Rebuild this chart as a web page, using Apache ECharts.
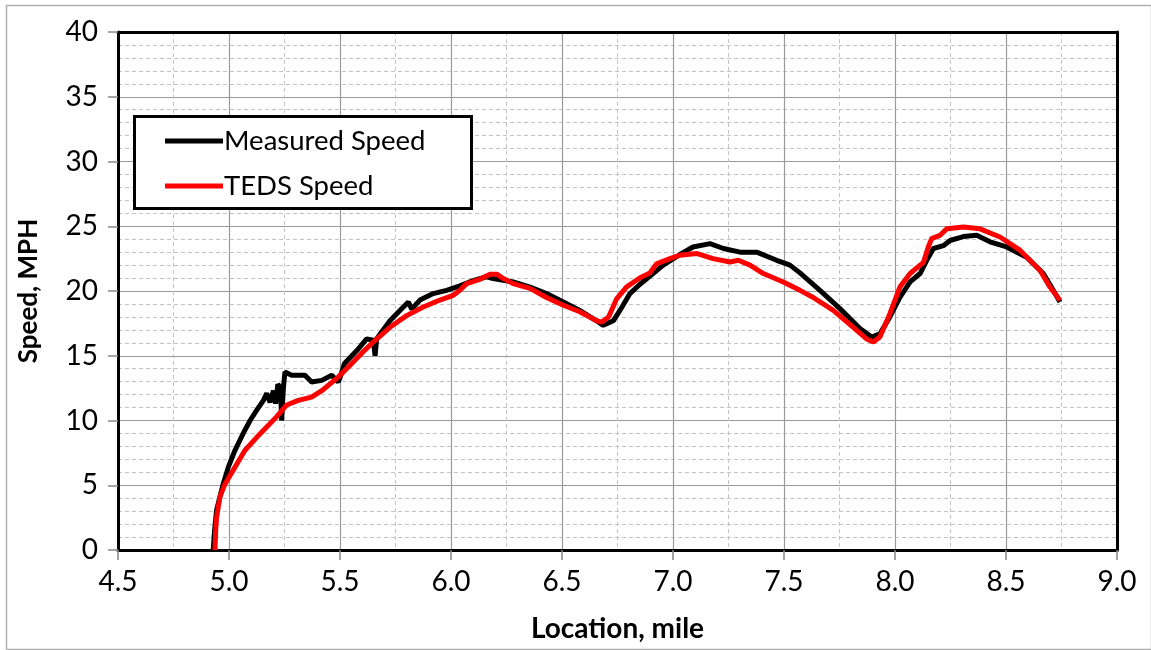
<!DOCTYPE html>
<html>
<head>
<meta charset="utf-8">
<script src="https://cdn.jsdelivr.net/npm/echarts@6/dist/echarts.min.js"></script>
<style>
html,body{margin:0;padding:0;background:#fff;}
#chart{width:1151px;height:650px;}
</style>
</head>
<body>
<div id="chart"></div>
<script>
const xTicks = [4.5, 5.0, 5.5, 6.0, 6.5, 7.0, 7.5, 8.0, 8.5, 9.0];
const yTicks = [0, 5, 10, 15, 20, 25, 30, 35, 40];

const measuredMiles = [4.929,4.935,4.944,4.959,4.974,4.997,5.027,5.064,5.095,5.125,5.155,5.17,5.185,5.20,5.21,5.22,5.232,5.237,5.245,5.252,5.282,5.342,5.372,5.418,5.463,5.492,5.50,5.52,5.531,5.576,5.62,5.65,5.658,5.665,5.695,5.725,5.77,5.808,5.823,5.86,5.92,5.98,6.04,6.1,6.16,6.19,6.28,6.356,6.43,6.506,6.58,6.656,6.686,6.731,6.761,6.806,6.85,6.91,6.956,7.03,7.09,7.167,7.227,7.302,7.377,7.467,7.527,7.572,7.662,7.752,7.842,7.895,7.932,7.977,8.022,8.068,8.113,8.143,8.173,8.218,8.248,8.308,8.368,8.428,8.503,8.593,8.668,8.713,8.743];
const measuredSpeed = [0,1.5,3.06,4.1,5.1,6.4,7.7,9.0,10.0,10.8,11.55,12.1,11.4,12.3,11.3,12.8,12.5,10.0,12.5,13.74,13.5,13.5,12.97,13.1,13.5,12.97,13.3,14.4,14.6,15.4,16.3,16.2,15.0,16.3,17.0,17.7,18.5,19.15,18.6,19.3,19.8,20.05,20.4,20.8,21.1,20.96,20.7,20.3,19.8,19.15,18.5,17.7,17.35,17.7,18.5,19.8,20.5,21.35,22.0,22.8,23.4,23.66,23.28,23.0,23.0,22.37,22.0,21.4,20.05,18.64,17.1,16.44,16.7,18.0,19.5,20.7,21.35,22.37,23.28,23.5,23.9,24.2,24.3,23.8,23.4,22.6,21.35,20.05,19.15];

const tedsMiles = [4.937,4.940,4.944,4.959,4.982,5.027,5.072,5.125,5.17,5.215,5.26,5.312,5.372,5.418,5.492,5.553,5.598,5.65,5.725,5.8,5.875,5.95,6.01,6.04,6.07,6.13,6.176,6.206,6.236,6.28,6.356,6.43,6.506,6.58,6.656,6.68,6.71,6.746,6.79,6.85,6.896,6.926,6.986,7.03,7.106,7.18,7.257,7.294,7.347,7.407,7.497,7.572,7.632,7.722,7.812,7.872,7.902,7.932,7.977,8.022,8.068,8.113,8.128,8.15,8.165,8.203,8.233,8.308,8.383,8.473,8.563,8.653,8.698,8.743];
const tedsSpeed = [0,1.5,2.5,4.1,5.1,6.4,7.7,8.7,9.5,10.3,11.2,11.55,11.8,12.3,13.35,14.4,15.2,16.06,17.2,18.1,18.76,19.3,19.67,20.05,20.57,20.9,21.3,21.3,20.96,20.57,20.2,19.5,18.9,18.4,17.7,17.6,18.0,19.4,20.3,21.0,21.4,22.1,22.5,22.76,22.9,22.5,22.24,22.37,22.0,21.35,20.7,20.05,19.5,18.5,17.2,16.3,16.06,16.44,18.25,20.3,21.35,22.0,22.2,23.4,24.05,24.3,24.8,24.95,24.8,24.17,23.15,21.6,20.3,19.28];

const measured = measuredMiles.map((m, i) => [m, measuredSpeed[i]]);
const teds = tedsMiles.map((m, i) => [m, tedsSpeed[i]]);

const FONT = 'Lato';
const chart = echarts.init(document.getElementById('chart'), null, {renderer: 'canvas'});
const borderAxis = {
  show: true,
  axisLine: {show: true, onZero: false, lineStyle: {color: '#000', width: 3}},
  axisTick: {show: false}, axisLabel: {show: false}, splitLine: {show: false}
};
chart.setOption({
  animation: false,
  backgroundColor: '#fff',
  grid: {left: 118, right: 34, top: 32, bottom: 100, containLabel: false},
  graphic: [
    {type: 'rect', left: 4, top: 3, shape: {width: 1145, height: 644}, style: {fill: 'none', stroke: '#b0b0b0', lineWidth: 1.5}, z: -10},
    {type: 'rect', left: 133, top: 115, shape: {width: 337, height: 92}, style: {fill: '#fff', stroke: '#000', lineWidth: 3}, z: 50}
  ],
  legend: {
    orient: 'vertical', left: 160, top: 121, z: 60,
    icon: 'rect', itemWidth: 58, itemHeight: 5, itemGap: 15,
    textStyle: {fontFamily: FONT, fontSize: 27.5, lineHeight: 30, color: '#000', padding: [0,0,0,-4]},
    data: ['Measured Speed', 'TEDS Speed']
  },
  xAxis: [{
    type: 'value', min: 4.5, max: 9.0, interval: 0.5,
    name: 'Location, mile', nameLocation: 'middle', nameGap: 65,
    nameTextStyle: {fontFamily: FONT, fontSize: 28, fontWeight: 'bold', color: '#000'},
    axisLine: {show: true, onZero: false, lineStyle: {color: '#000', width: 3}},
    axisTick: {show: true, length: 10, lineStyle: {color: '#888', width: 1.5}},
    axisLabel: {fontFamily: FONT, fontSize: 28, color: '#000', margin: 18, formatter: v => v.toFixed(1)},
    splitLine: {show: true, lineStyle: {color: '#9a9a9a', width: 1.2}},
    minorTick: {show: false, splitNumber: 2},
    minorSplitLine: {show: true, lineStyle: {color: '#c4c4c4', width: 1, type: [4, 3]}}
  }, Object.assign({position: 'top', type: 'value', min: 4.5, max: 9.0}, borderAxis)],
  yAxis: [{
    type: 'value', min: 0, max: 40, interval: 5,
    name: 'Speed, MPH', nameLocation: 'middle', nameGap: 76,
    nameTextStyle: {fontFamily: FONT, fontSize: 26, fontWeight: 'bold', color: '#000'},
    axisLine: {show: true, onZero: false, lineStyle: {color: '#000', width: 3}},
    axisTick: {show: true, length: 10, lineStyle: {color: '#888', width: 1.5}},
    axisLabel: {fontFamily: FONT, fontSize: 28, color: '#000', margin: 20},
    splitLine: {show: true, lineStyle: {color: '#9a9a9a', width: 1.2}},
    minorTick: {show: false, splitNumber: 5},
    minorSplitLine: {show: true, lineStyle: {color: '#c4c4c4', width: 1, type: [4, 3]}}
  }, Object.assign({position: 'right', type: 'value', min: 0, max: 40}, borderAxis)],
  series: [
    {name: 'Measured Speed', type: 'line', data: measured, showSymbol: false, smooth: false,
     lineStyle: {color: '#000', width: 5}, itemStyle: {color: '#000'}, z: 3},
    {name: 'TEDS Speed', type: 'line', data: teds, showSymbol: false, smooth: false,
     lineStyle: {color: '#ff0000', width: 5}, itemStyle: {color: '#ff0000'}, z: 4}
  ]
});
</script>
</body>
</html>
